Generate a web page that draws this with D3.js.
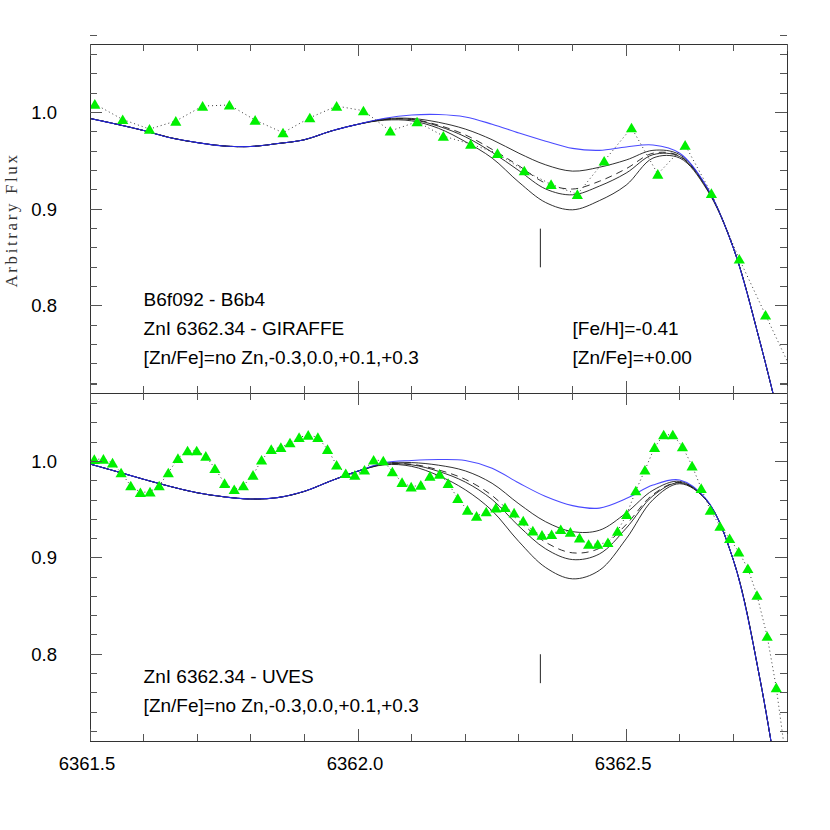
<!DOCTYPE html>
<html><head><meta charset="utf-8">
<script src="https://cdn.jsdelivr.net/npm/d3@7"></script>
<style>body{margin:0;background:#fff}</style>
</head><body>
<svg id="chart" width="830" height="830"></svg>
<script>
// ---------- data ----------
const xDomain = [6361.5, 6362.8];
const yDomain = [0.71, 1.071];
const xMajorTicks = [6361.5, 6362.0, 6362.5];
const yMajorTicks = [0.8, 0.9, 1.0];
const yTitle = "Arbitrary Flux";
const lineCenter = 6362.34;

// synthetic spectra wavelength grid
const modelWave = [6361.50,6361.55,6361.60,6361.65,6361.70,6361.75,6361.80,6361.85,6361.90,6361.95,
  6362.00,6362.05,6362.10,6362.15,6362.20,6362.25,6362.30,6362.35,6362.40,6362.45,
  6362.50,6362.55,6362.60,6362.65,6362.70,6362.75,6362.80];

// GIRAFFE panel synthetic spectra
const giraffeNoZn = [0.994,0.988,0.9815,0.974,0.969,0.9655,0.965,0.968,0.972,0.981,
  0.988,0.9942,0.9975,0.998,0.9955,0.988,0.979,0.9705,0.963,0.961,
  0.9645,0.9665,0.958,0.9235,0.860,0.762,0.650];
const giraffeM03 = [0.994,0.988,0.9815,0.974,0.969,0.9655,0.965,0.968,0.972,0.981,
  0.988,0.9935,0.994,0.990,0.983,0.972,0.958,0.946,0.9395,0.9435,
  0.951,0.961,0.9565,0.923,0.860,0.762,0.650];
const giraffeP00 = [0.994,0.988,0.9815,0.974,0.969,0.9655,0.965,0.968,0.972,0.981,
  0.988,0.993,0.9932,0.987,0.977,0.962,0.945,0.927,0.921,0.929,
  0.942,0.958,0.955,0.9225,0.860,0.762,0.650];
const giraffeP01 = [0.994,0.988,0.9815,0.974,0.969,0.9655,0.965,0.968,0.972,0.981,
  0.988,0.9928,0.9928,0.986,0.975,0.959,0.940,0.921,0.915,0.924,
  0.9375,0.9565,0.9545,0.922,0.860,0.762,0.650];
const giraffeP03 = [0.994,0.988,0.9815,0.974,0.969,0.9655,0.965,0.968,0.972,0.981,
  0.988,0.9922,0.9915,0.9838,0.970,0.953,0.928,0.907,0.8995,0.909,
  0.925,0.953,0.953,0.921,0.860,0.762,0.650];

// GIRAFFE observed spectrum
const giraffeWave = [6361.509,6361.561,6361.611,6361.660,6361.710,6361.760,6361.808,6361.860,6361.910,
  6361.960,6362.010,6362.060,6362.110,6362.159,6362.210,6362.260,6362.310,6362.360,6362.409,
  6362.459,6362.510,6362.559,6362.610,6362.659,6362.711,6362.760,6362.810];
const giraffeFlux = [1.0089,0.9929,0.983,0.9913,1.0068,1.0079,0.9923,0.9792,0.9947,
  1.0068,1.002,0.981,0.9906,0.9758,0.9675,0.9579,0.9399,0.9259,0.9155,
  0.95,0.9844,0.9365,0.9665,0.9165,0.8486,0.7907,0.7317];

// UVES panel synthetic spectra
const uvesNoZn = [0.9973,0.9895,0.9815,0.974,0.9675,0.9633,0.961,0.9625,0.969,0.980,
  0.990,0.9989,1.001,1.002,1.001,0.993,0.9776,0.9636,0.9542,0.9516,
  0.9615,0.9755,0.9807,0.9603,0.8976,0.773,0.606];
const uvesM03 = [0.9973,0.9895,0.9815,0.974,0.9675,0.9633,0.961,0.9625,0.969,0.980,
  0.990,0.9981,0.9988,0.9961,0.9902,0.9773,0.956,0.9374,0.9272,0.9286,
  0.9466,0.9701,0.9793,0.960,0.8976,0.773,0.606];
const uvesP00 = [0.9973,0.9895,0.9815,0.974,0.9675,0.9633,0.961,0.9625,0.969,0.980,
  0.990,0.9974,0.9971,0.9912,0.9814,0.9646,0.9384,0.9161,0.9052,0.9099,
  0.9345,0.9657,0.9782,0.9598,0.8976,0.773,0.606];
const uvesP01 = [0.9973,0.9895,0.9815,0.974,0.9675,0.9633,0.961,0.9625,0.969,0.980,
  0.990,0.9972,0.9965,0.9897,0.9786,0.9605,0.9328,0.9093,0.8982,0.904,
  0.9307,0.9643,0.9779,0.9597,0.8976,0.773,0.606];
const uvesP03 = [0.9973,0.9895,0.9815,0.974,0.9675,0.9633,0.961,0.9625,0.969,0.980,
  0.990,0.9966,0.9949,0.9853,0.9706,0.9489,0.9168,0.8899,0.8782,0.887,
  0.9197,0.9603,0.9769,0.9595,0.8976,0.773,0.606];

// UVES observed spectrum
const uvesWave = [6361.508,6361.525,6361.542,6361.558,6361.576,6361.594,6361.612,6361.629,6361.646,6361.664,
  6361.682,6361.699,6361.716,6361.733,6361.751,6361.769,6361.786,6361.804,6361.820,6361.838,
  6361.856,6361.873,6361.890,6361.907,6361.925,6361.943,6361.960,6361.977,6361.994,6362.012,
  6362.029,6362.047,6362.064,6362.082,6362.099,6362.117,6362.134,6362.152,6362.168,6362.186,
  6362.204,6362.221,6362.239,6362.257,6362.274,6362.291,6362.308,6362.326,6362.343,6362.361,
  6362.378,6362.396,6362.413,6362.430,6362.447,6362.466,6362.484,6362.501,6362.518,6362.535,
  6362.553,6362.570,6362.587,6362.605,6362.623,6362.640,6362.657,6362.675,6362.693,6362.710,
  6362.727,6362.744,6362.763,6362.780,6362.797];
const uvesFlux = [1.0022,1.0025,0.9986,0.9883,0.9748,0.9679,0.9685,0.9748,0.9883,1.0032,
  1.0111,1.0111,1.0056,0.9928,0.9773,0.971,0.9748,0.9859,1.0015,1.0126,
  1.0146,1.0194,1.025,1.0274,1.025,1.0126,0.9963,0.9876,0.9859,0.9911,
  1.0015,1.0007,0.9893,0.9783,0.9737,0.9755,0.9848,0.9869,0.9773,0.9617,
  0.9495,0.9433,0.9478,0.9519,0.9523,0.9467,0.9384,0.928,0.9236,0.9243,
  0.9295,0.9267,0.9208,0.9142,0.9142,0.916,0.9277,0.9451,0.9696,0.9911,
  1.0146,1.0277,1.0277,1.0153,0.9955,0.9721,0.9495,0.9329,0.9201,0.9062,
  0.889,0.8613,0.8187,0.7654,0.695];

const giraffeLabels = ["B6f092 - B6b4", "ZnI 6362.34 - GIRAFFE", "[Zn/Fe]=no Zn,-0.3,0.0,+0.1,+0.3"];
const giraffeParams = ["[Fe/H]=-0.41", "[Zn/Fe]=+0.00"];
const uvesLabels = ["ZnI 6362.34 - UVES", "[Zn/Fe]=no Zn,-0.3,0.0,+0.1,+0.3"];

// ---------- drawing ----------
const svg = d3.select("#chart");
const left = 90, right = 787;
const x = d3.scaleLinear().domain(xDomain).range([left, right]);
const xMinor = d3.range(0, 14).map(i => +(xDomain[0] + i * 0.1).toFixed(2));
const yMinor = d3.range(0, 19).map(i => +(0.72 + i * 0.02).toFixed(2));
const isMajorX = v => xMajorTicks.some(t => Math.abs(t - v) < 1e-6);
const isMajorY = v => yMajorTicks.some(t => Math.abs(t - v) < 1e-6);

const panels = [
  {id: "g", top: 44, bottom: 393, models: [giraffeM03, giraffeP00, giraffeP01, giraffeP03], noZn: giraffeNoZn,
   obsW: giraffeWave, obsF: giraffeFlux, labels: giraffeLabels, labelY: [0.80, 0.77, 0.74],
   params: giraffeParams, paramY: [0.77, 0.74], mark: [0.84, 0.88]},
  {id: "u", top: 393, bottom: 741, models: [uvesM03, uvesP00, uvesP01, uvesP03], noZn: uvesNoZn,
   obsW: uvesWave, obsF: uvesFlux, labels: uvesLabels, labelY: [0.77, 0.74],
   params: [], paramY: [], mark: [0.77, 0.80]}
];

const frameColor = "#333";
const font = "'Liberation Sans', Arial, Helvetica, sans-serif";

panels.forEach((p, pi) => {
  const y = d3.scaleLinear().domain(yDomain).range([p.bottom, p.top]);
  const g = svg.append("g");

  g.append("clipPath").attr("id", "clip" + p.id).append("rect")
    .attr("x", left).attr("y", p.top).attr("width", right - left).attr("height", p.bottom - p.top);

  const data = g.append("g").attr("clip-path", `url(#clip${p.id})`);
  const line = d3.line().x(d => x(d[0])).y(d => y(d[1])).curve(d3.curveCatmullRom.alpha(0.5));

  // synthetic Zn spectra (black); [Zn/Fe]=0.0 dashed
  p.models.forEach((m, k) => {
    data.append("path").datum(modelWave.map((w, i) => [w, m[i]]))
      .attr("d", line).attr("fill", "none").attr("stroke", "#1a1a1a")
      .attr("stroke-width", 0.9)
      .attr("stroke-dasharray", k === 1 ? "7,5" : null);
  });
  // no Zn (blue)
  data.append("path").datum(modelWave.map((w, i) => [w, p.noZn[i]]))
    .attr("d", line).attr("fill", "none").attr("stroke", "#2a2aff")
    .attr("stroke-opacity", 0.85).attr("stroke-width", 1.1);

  // observed spectrum: dotted line + green triangles
  const obs = p.obsW.map((w, i) => [w, p.obsF[i]]);
  data.append("path").datum(obs)
    .attr("d", d3.line().x(d => x(d[0])).y(d => y(d[1])))
    .attr("fill", "none").attr("stroke", "#222").attr("stroke-width", 0.9)
    .attr("stroke-dasharray", "1,3");
  data.selectAll("path.tri").data(obs).join("path").attr("class", "tri")
    .attr("d", "M0,-5 L5.6,4.6 L-5.6,4.6 Z")
    .attr("transform", d => `translate(${x(d[0])},${y(d[1])})`)
    .attr("fill", "#00f000");

  // line position marker
  g.append("line").attr("x1", x(lineCenter)).attr("x2", x(lineCenter))
    .attr("y1", y(p.mark[0])).attr("y2", y(p.mark[1]))
    .attr("stroke", "#222").attr("stroke-width", 1);

  // frame
  g.append("rect").attr("x", left).attr("y", p.top).attr("width", right - left).attr("height", p.bottom - p.top)
    .attr("fill", "none").attr("stroke", frameColor).attr("stroke-width", 1).attr("shape-rendering", "crispEdges");

  // ticks (inward on all four sides)
  const tk = g.append("g").attr("stroke", "#555").attr("stroke-width", 1).attr("shape-rendering", "crispEdges");
  xMinor.forEach(v => {
    const L = isMajorX(v) ? 12 : 7;
    tk.append("line").attr("x1", x(v)).attr("x2", x(v)).attr("y1", p.top).attr("y2", p.top + L);
    tk.append("line").attr("x1", x(v)).attr("x2", x(v)).attr("y1", p.bottom).attr("y2", p.bottom - L);
  });
  yMinor.forEach(v => {
    const L = isMajorY(v) ? 12 : 7;
    tk.append("line").attr("x1", left).attr("x2", left + L).attr("y1", y(v)).attr("y2", y(v));
    tk.append("line").attr("x1", right).attr("x2", right - L).attr("y1", y(v)).attr("y2", y(v));
  });

  // y tick labels
  g.selectAll("text.yl").data(yMajorTicks).join("text").attr("class", "yl")
    .attr("x", 57).attr("y", d => y(d) + 6.5).attr("text-anchor", "end")
    .attr("font-family", font).attr("font-size", 18.5).attr("fill", "#000")
    .text(d => d3.format(".1f")(d));

  // annotations
  p.labels.forEach((t, i) => {
    g.append("text").attr("x", x(6361.6)).attr("y", y(p.labelY[i]))
      .attr("font-family", font).attr("font-size", 19).attr("fill", "#000").text(t);
  });
  p.params.forEach((t, i) => {
    g.append("text").attr("x", x(6362.40)).attr("y", y(p.paramY[i]))
      .attr("font-family", font).attr("font-size", 19).attr("fill", "#000").text(t);
  });

  if (pi === 1) {
    g.selectAll("text.xl").data(xMajorTicks).join("text").attr("class", "xl")
      .attr("x", d => x(d) - 3).attr("y", 770).attr("text-anchor", "middle")
      .attr("font-family", font).attr("font-size", 18.5).attr("fill", "#000")
      .text(d => d3.format(".1f")(d));
  }
});

// y-axis title
svg.append("text").attr("transform", "translate(17,220) rotate(-90)")
  .attr("text-anchor", "middle").attr("font-family", "'Liberation Serif', 'Times New Roman', serif")
  .attr("font-size", 17).attr("letter-spacing", "2.6px").attr("fill", "#333").text(yTitle);
</script>
</body></html>
